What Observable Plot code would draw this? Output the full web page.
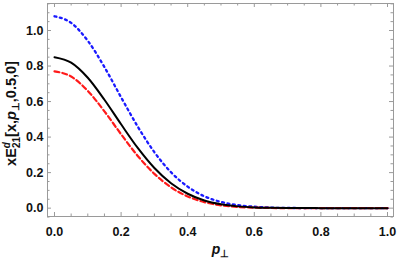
<!DOCTYPE html>
<html>
<head>
<meta charset="utf-8">
<script src="https://cdn.jsdelivr.net/npm/d3@7"></script>
<script src="https://cdn.jsdelivr.net/npm/@observablehq/plot@0.6"></script>
<style>
  html, body { margin: 0; padding: 0; background: #fff; }
  #chart { width: 398px; height: 264px; }
</style>
</head>
<body>
<div id="chart"></div>
<script>
// p_perp sample positions
const pPerp = [0, 0.05, 0.1, 0.15, 0.2, 0.25, 0.3, 0.35, 0.4, 0.45, 0.5, 0.55, 0.6, 0.65, 0.7, 0.75, 0.8, 0.85, 0.9, 0.95, 1.0];
// solid black curve
const blackVals = [0.85, 0.819, 0.734, 0.610, 0.472, 0.339, 0.226, 0.140, 0.081, 0.043, 0.0215, 0.010, 0.004, 0.0017, 0.0007, 0.0003, 0.0001, 0, 0, 0, 0];
// dashed red curve
const redVals = [0.77, 0.741, 0.660, 0.545, 0.416, 0.294, 0.193, 0.117, 0.066, 0.034, 0.016, 0.007, 0.003, 0.001, 0.0004, 0.0001, 0, 0, 0, 0, 0];
// dotted blue curve
const blueVals = [1.08, 1.043, 0.942, 0.794, 0.624, 0.459, 0.315, 0.202, 0.121, 0.067, 0.035, 0.017, 0.008, 0.003, 0.0012, 0.0005, 0.0002, 0.0001, 0, 0, 0];

const xMajor = [0, 0.2, 0.4, 0.6, 0.8, 1.0];
const xMinor = [0.05, 0.1, 0.15, 0.25, 0.3, 0.35, 0.45, 0.5, 0.55, 0.65, 0.7, 0.75, 0.85, 0.9, 0.95];
const yMajor = [0, 0.2, 0.4, 0.6, 0.8, 1.0];
const yMinor = [-0.05, 0.05, 0.1, 0.15, 0.25, 0.3, 0.35, 0.45, 0.5, 0.55, 0.65, 0.7, 0.75, 0.85, 0.9, 0.95, 1.05, 1.1, 1.15];

const xDom = [-0.021, 1.018];
const yDom = [-0.047, 1.152];

const W = 398, H = 264;
const mL = 47, mR = 5, mT = 3, mB = 48;
const pw = W - mL - mR, ph = H - mT - mB;
// tick lengths converted to data units
const yLenMaj = 4 * (yDom[1] - yDom[0]) / ph;
const yLenMin = 2.5 * (yDom[1] - yDom[0]) / ph;
const xLenMaj = 4 * (xDom[1] - xDom[0]) / pw;
const xLenMin = 2.5 * (xDom[1] - xDom[0]) / pw;

const mk = (vals) => pPerp.map((p, i) => ({p, v: vals[i]}));
const frameCol = "#9a9a9a";
const font = "Liberation Sans, Arial, sans-serif";

const plot = Plot.plot({
  width: W, height: H,
  marginLeft: mL, marginRight: mR, marginTop: mT, marginBottom: mB,
  style: {fontFamily: font, fontSize: "12.5px", fontWeight: "bold", background: "#fff"},
  x: {domain: xDom},
  y: {domain: yDom},
  marks: [
    // bottom ticks (inward)
    Plot.ruleX(xMajor, {x: d => d, y1: yDom[0], y2: yDom[0] + yLenMaj, stroke: frameCol}),
    Plot.ruleX(xMinor, {x: d => d, y1: yDom[0], y2: yDom[0] + yLenMin, stroke: frameCol}),
    // top ticks
    Plot.ruleX(xMajor, {x: d => d, y1: yDom[1], y2: yDom[1] - yLenMaj, stroke: frameCol}),
    Plot.ruleX(xMinor, {x: d => d, y1: yDom[1], y2: yDom[1] - yLenMin, stroke: frameCol}),
    // left ticks
    Plot.ruleY(yMajor, {y: d => d, x1: xDom[0], x2: xDom[0] + xLenMaj, stroke: frameCol}),
    Plot.ruleY(yMinor, {y: d => d, x1: xDom[0], x2: xDom[0] + xLenMin, stroke: frameCol}),
    // right ticks
    Plot.ruleY(yMajor, {y: d => d, x1: xDom[1], x2: xDom[1] - xLenMaj, stroke: frameCol}),
    Plot.ruleY(yMinor, {y: d => d, x1: xDom[1], x2: xDom[1] - xLenMin, stroke: frameCol}),
    Plot.frame({stroke: frameCol}),
    Plot.axisX(xMajor, {tickSize: 0, tickPadding: 11, label: null, tickFormat: d3.format(".1f"), fill: "#111", fontSize: 12.5, fontWeight: "bold"}),
    Plot.axisY(yMajor, {tickSize: 0, tickPadding: 4, label: null, tickFormat: d3.format(".1f"), fill: "#111", fontSize: 12.5, fontWeight: "bold"}),
    Plot.line(mk(blueVals), {x: "p", y: "v", stroke: "#1a1aff", strokeWidth: 2.3, strokeDasharray: "2,3.5", curve: "monotone-x"}),
    Plot.line(mk(redVals), {x: "p", y: "v", stroke: "#ff1a1a", strokeWidth: 2.2, strokeDasharray: "5,3", curve: "monotone-x"}),
    Plot.line(mk(blackVals), {x: "p", y: "v", stroke: "#000", strokeWidth: 2, curve: "monotone-x"})
  ]
});

const svg = d3.select(plot);
// y-axis label
const yl = svg.append("text")
  .attr("transform", `translate(16,${mT + ph / 2 + 4}) rotate(-90)`)
  .attr("text-anchor", "middle")
  .attr("font-family", font)
  .attr("font-weight", "bold")
  .attr("font-size", 14.5)
  .attr("fill", "#111");
yl.append("tspan").text("xE");
yl.append("tspan").attr("dy", -6).attr("font-size", 10).attr("font-style", "italic").text("d");
yl.append("tspan").attr("dx", -6).attr("dy", 10).attr("font-size", 10).text("21");
yl.append("tspan").attr("dy", -4).text("[x,");
yl.append("tspan").attr("font-style", "italic").text("p");
yl.append("tspan").attr("dy", 3).attr("font-size", 10).text("⊥");
yl.append("tspan").attr("dy", -3).text(",0.5,0]");

// x-axis label
const xl = svg.append("text")
  .attr("x", mL + (0.5 - xDom[0]) / (xDom[1] - xDom[0]) * pw)
  .attr("y", 254)
  .attr("text-anchor", "middle")
  .attr("font-family", font)
  .attr("font-weight", "bold")
  .attr("font-size", 14)
  .attr("fill", "#111");
xl.append("tspan").attr("font-style", "italic").text("p");
xl.append("tspan").attr("dy", 3).attr("font-size", 10).text("⊥");

document.getElementById("chart").appendChild(plot);
</script>
</body>
</html>
